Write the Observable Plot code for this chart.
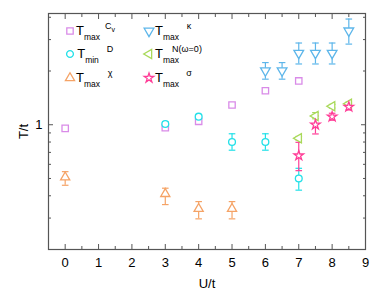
<!DOCTYPE html>
<html><head><meta charset="utf-8">
<script src="https://cdn.jsdelivr.net/npm/d3@7"></script>
<script src="https://cdn.jsdelivr.net/npm/@observablehq/plot@0.6"></script>
<style>html,body{margin:0;padding:0;background:#fff;}</style>
</head><body><div id="chart"></div>
<script>
// ---- data ----
const U_cv = [0, 3, 4, 5, 6, 7];
const T_cv = [0.954, 0.963, 1.045, 1.29, 1.55, 1.76];

const U_D = [3, 4, 5, 6, 7];
const T_D = [1.01, 1.11, 0.80, 0.80, 0.50];
const lo_D = [0.98, 1.09, 0.72, 0.72, 0.43];
const hi_D = [1.04, 1.13, 0.89, 0.89, 0.57];

const U_chi = [0, 3, 4, 5];
const T_chi = [0.508, 0.41, 0.338, 0.338];
const lo_chi = [0.458, 0.357, 0.297, 0.297];
const hi_chi = [0.546, 0.441, 0.371, 0.371];

const U_kap = [6, 6.5, 7, 7.5, 8, 8.5];
const T_kap = [2.01, 2.01, 2.52, 2.52, 2.52, 3.36];
const lo_kap = [1.80, 1.80, 2.19, 2.19, 2.19, 2.83];
const hi_kap = [2.23, 2.23, 2.87, 2.87, 2.87, 3.91];

const U_N = [7, 7.5, 8, 8.5];
const T_N = [0.84, 1.12, 1.27, 1.31];
const lo_N = [0.82, 1.08, 1.24, 1.28];
const hi_N = [0.86, 1.17, 1.30, 1.34];

const U_sig = [7, 7.5, 8, 8.5];
const T_sig = [0.672, 1.0, 1.11, 1.26];
const lo_sig = [0.553, 0.888, 1.06, 1.21];
const hi_sig = [0.797, 1.12, 1.16, 1.31];

const xMajor = [0, 1, 2, 3, 4, 5, 6, 7, 8, 9];
const xMinor = [-0.5, 0.5, 1.5, 2.5, 3.5, 4.5, 5.5, 6.5, 7.5, 8.5];
const yMajor = [1];
const yMinor = [0.3, 0.4, 0.5, 0.6, 0.7, 0.8, 0.9, 2, 3, 4];

// ---- symbols ----
function triSide(size){ return Math.sqrt(size * 4 / Math.sqrt(3)); }
const triDown = {draw(ctx, size){ const a = triSide(size), h = a*Math.sqrt(3)/2;
  ctx.moveTo(-a/2, -h/3); ctx.lineTo(a/2, -h/3); ctx.lineTo(0, 2*h/3); ctx.closePath(); }};
const triLeft = {draw(ctx, size){ const a = triSide(size), h = a*Math.sqrt(3)/2;
  ctx.moveTo(h/3, -a/2); ctx.lineTo(h/3, a/2); ctx.lineTo(-2*h/3, 0); ctx.closePath(); }};
const capSym = {draw(ctx, size){ const s = Math.sqrt(size/Math.PI); ctx.moveTo(-s,0); ctx.lineTo(s,0); }};

const series = [
  {key:"cv",  U:U_cv,  T:T_cv,  lo:null,   hi:null,   color:"#d98be8", sym:d3.symbolSquare,   r:3.6},
  {key:"D",   U:U_D,   T:T_D,   lo:lo_D,   hi:hi_D,   color:"#22e0e8", sym:d3.symbolCircle,   r:3.4},
  {key:"chi", U:U_chi, T:T_chi, lo:lo_chi, hi:hi_chi, color:"#f5a366", sym:d3.symbolTriangle, r:3.4},
  {key:"kap", U:U_kap, T:T_kap, lo:lo_kap, hi:hi_kap, color:"#5db6ea", sym:triDown,          r:3.6},
  {key:"N",   U:U_N,   T:T_N,   lo:lo_N,   hi:hi_N,   color:"#a9d95a", sym:triLeft,          r:3.4},
  {key:"sig", U:U_sig, T:T_sig, lo:lo_sig, hi:hi_sig, color:"#ff3d97", sym:d3.symbolStar,     r:3.0}
];

const marks = [];
for (const s of series) {
  const rows = s.U.map((u,i)=>({U:u, T:s.T[i], lo:s.lo?s.lo[i]:null, hi:s.hi?s.hi[i]:null}));
  if (s.lo) {
    marks.push(Plot.ruleX(rows, {x:"U", y1:"lo", y2:"hi", stroke:s.color, strokeWidth:1.2}));
    marks.push(Plot.dot(rows, {x:"U", y:"lo", symbol:capSym, r:3.3, stroke:s.color, strokeWidth:1.2}));
    marks.push(Plot.dot(rows, {x:"U", y:"hi", symbol:capSym, r:3.3, stroke:s.color, strokeWidth:1.2}));
  }
}
for (const s of series) {
  const rows = s.U.map((u,i)=>({U:u, T:s.T[i]}));
  marks.push(Plot.dot(rows, {x:"U", y:"T", symbol:s.sym, r:s.r, stroke:s.color, fill:"white", strokeWidth:1.3}));
}

const axColor = "#555";
const chart = Plot.plot({
  width: 386, height: 296,
  marginLeft: 48, marginRight: 21, marginTop: 13, marginBottom: 47,
  style: {fontFamily: "'Liberation Sans', Arial, sans-serif", fontSize: "13px", background: "white", color: "#000", overflow: "visible"},
  x: {domain: [-0.5, 9]},
  y: {type: "log", domain: [0.2, 4.2]},
  marks: [
    Plot.frame({stroke: axColor, strokeWidth: 1.2}),
    Plot.axisX({ticks: xMajor, tickSize: -5, text: null, label: null, stroke: axColor}),
    Plot.axisX({ticks: xMinor, tickSize: -3, text: null, label: null, stroke: axColor}),
    Plot.axisX({anchor: "top", ticks: xMajor, tickSize: -5, text: null, label: null, stroke: axColor}),
    Plot.axisX({anchor: "top", ticks: xMinor, tickSize: -3, text: null, label: null, stroke: axColor}),
    Plot.axisX({ticks: xMajor, tickSize: 0, tickPadding: 8, tickFormat: d => String(d), fontSize: 13,
      label: "U/t", labelAnchor: "center", labelOffset: 38, labelArrow: "none"}),
    Plot.axisY({ticks: yMajor, tickSize: -5, text: null, label: null, stroke: axColor}),
    Plot.axisY({ticks: yMinor, tickSize: -3, text: null, label: null, stroke: axColor}),
    Plot.axisY({anchor: "right", ticks: yMajor, tickSize: -5, text: null, label: null, stroke: axColor}),
    Plot.axisY({anchor: "right", ticks: yMinor, tickSize: -3, text: null, label: null, stroke: axColor}),
    Plot.axisY({ticks: yMajor, tickSize: 0, tickPadding: 6, tickFormat: d => "1", fontSize: 13,
      label: "T/t", labelAnchor: "center", labelOffset: 30, labelArrow: "none"}),
    ...marks
  ]
});
document.getElementById("chart").append(chart);

// ---- legend ----
const legend = [
  {s:series[0], main:"T", sub:"max", sup:"C", supSub:"v"},
  {s:series[1], main:"T", sub:"min", sup:"D"},
  {s:series[2], main:"T", sub:"max", sup:"\u03c7"},
  {s:series[3], main:"T", sub:"max", sup:"\u03ba"},
  {s:series[4], main:"T", sub:"max", sup:"N(\u03c9=0)"},
  {s:series[5], main:"T", sub:"max", sup:"\u03c3"}
];
const colX = [70, 149], rowY = [31, 54, 78];
const svg = d3.select(chart.tagName.toLowerCase() === "svg" ? chart : chart.querySelector("svg"));
const g = svg.append("g").attr("font-family", "'Liberation Sans', Arial, sans-serif");
legend.forEach((e, i) => {
  const x = colX[Math.floor(i/3)], y = rowY[i%3];
  g.append("path").attr("transform", `translate(${x},${y})`)
    .attr("d", d3.symbol().type(e.s.sym).size(Math.PI*e.s.r*e.s.r)())
    .attr("fill", "white").attr("stroke", e.s.color).attr("stroke-width", 1.3);
  const t = g.append("text").attr("x", x + 18).attr("y", y + 4).attr("font-size", 13).attr("fill", "#000");
  t.append("tspan").text(e.main);
  t.append("tspan").attr("dy", 4.5).attr("font-size", 8.5).text(e.sub);
  const sx = x + (e.sup.length > 2 ? 38 : 40);
  const st = g.append("text").attr("x", sx).attr("y", y - 2).attr("font-size", 9).attr("fill", "#000");
  st.append("tspan").text(e.sup);
  if (e.supSub) st.append("tspan").attr("dy", 2.5).attr("font-size", 7).text(e.supSub);
});
</script>
</body></html>
